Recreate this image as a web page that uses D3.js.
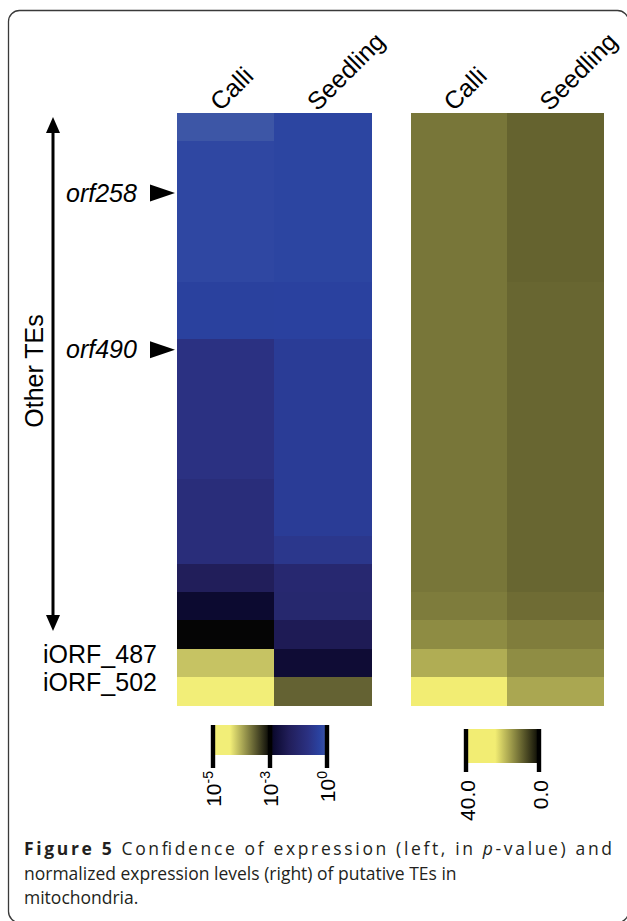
<!DOCTYPE html>
<html>
<head>
<meta charset="utf-8">
<script src="https://cdn.jsdelivr.net/npm/d3@7"></script>
<style>
  html, body { margin: 0; padding: 0; background: #fff; }
  svg { display: block; }
</style>
</head>
<body>
<svg id="chart" width="627" height="921"></svg>
<script>
// ---------------- data ----------------
const columns = ["Calli", "Seedling"];
const rowNames = ["TE01", "TE02", "orf258", "TE04", "TE05", "TE06", "TE07", "TE08",
  "orf490", "TE10", "TE11", "TE12", "TE13", "TE14", "TE15", "TE16", "TE17", "TE18", "TE19",
  "iORF_487", "iORF_502"];
// log10(p-value) of expression confidence
const logPCalli = [0, -0.3, -0.3, -0.3, -0.3, -0.3, -0.45, -0.45, -1, -1, -1, -1, -1,
  -1.2, -1.2, -1.2, -2, -2.8, -3, -4.14, -5];
const logPSeedling = [-0.35, -0.35, -0.35, -0.35, -0.35, -0.35, -0.42, -0.42, -0.6, -0.6,
  -0.6, -0.6, -0.6, -0.6, -0.6, -0.8, -1.45, -1.5, -2.1, -2.7, -3.56];
// normalized expression levels
const exprCalli = [11.4, 11.4, 11.4, 11.4, 11.4, 11.4, 11.4, 11.4, 11.4, 11.4, 11.4, 11.4,
  11.4, 11.4, 11.4, 11.4, 11.4, 12.0, 13.7, 17.2, 32];
const exprSeedling = [9.4, 9.4, 9.4, 9.4, 9.4, 9.4, 9.7, 9.7, 9.7, 9.7, 9.7, 9.7, 9.7, 9.7,
  9.7, 9.7, 9.7, 10.4, 12.2, 13.8, 16.6];
const pTicks = [-5, -3, 0];
const exprTicks = [40, 0];
const exprTickLabels = ["40.0", "0.0"];
const annotLabels = ["orf258", "orf490"];
const annotPos = [2.84, 8.4];      // position in row units
const bottomLabels = ["iORF_487", "iORF_502"];

// ---------------- setup ----------------
const svg = d3.select("#chart");
const FONT = "'Liberation Sans', Arial, Helvetica, sans-serif";

// frame
svg.append("rect").attr("x", 8.5).attr("y", 10.5).attr("width", 620).attr("height", 912)
  .attr("rx", 11).attr("fill", "none").attr("stroke", "#3a3a3a").attr("stroke-width", 1.3);

// colour scales
const pColor = d3.scaleLinear()
  .domain([-5, -4.4, -3, -2.8, -2, -1, -0.4, 0])
  .range(["#f2ee78", "#f2ee78", "#050505", "#0c0a30", "#211e5a", "#2b3182", "#2a42a0", "#3d56a6"])
  .clamp(true);
const eColor = d3.scaleLinear()
  .domain([0, 24, 40])
  .range(["#0a0a04", "#f2ed73", "#f2ed73"])
  .clamp(true);

const yTop = 113, yBottom = 705;
const y = d3.scaleBand().domain(rowNames).range([yTop, yBottom]).padding(0);
const yRow = d3.scaleLinear().domain([0, rowNames.length]).range([yTop, yBottom]);

const xL = d3.scaleBand().domain(columns).range([177, 371]).padding(0);
const xR = d3.scaleBand().domain(columns).range([411, 603]).padding(0);

function heat(xs, series, color) {
  const g = svg.append("g").attr("shape-rendering", "crispEdges");
  columns.forEach((c, ci) => {
    g.selectAll(null).data(series[ci]).join("rect")
      .attr("x", xs(c)).attr("width", xs.bandwidth() + 0.5)
      .attr("y", (d, i) => y(rowNames[i])).attr("height", y.bandwidth() + 0.5)
      .attr("fill", d => color(d));
  });
}
heat(xL, [logPCalli, logPSeedling], pColor);
heat(xR, [exprCalli, exprSeedling], eColor);

// column labels
function colLabels(xs) {
  columns.forEach(c => {
    const cx = xs(c) + xs.bandwidth() / 2 - 5;
    svg.append("text").attr("transform", `translate(${cx},112) rotate(-45)`)
      .attr("font-family", FONT).attr("font-size", 25).attr("fill", "#000")
      .text(c);
  });
}
colLabels(xL);
colLabels(xR);

// double arrow
const ax = 53, aTop = 117, aBot = 631;
svg.append("line").attr("x1", ax).attr("x2", ax).attr("y1", aTop + 10).attr("y2", aBot - 10)
  .attr("stroke", "#000").attr("stroke-width", 3);
svg.append("path").attr("d", `M${ax},${aTop} L${ax - 7},${aTop + 16} L${ax + 7},${aTop + 16} Z`).attr("fill", "#000");
svg.append("path").attr("d", `M${ax},${aBot} L${ax - 7},${aBot - 16} L${ax + 7},${aBot - 16} Z`).attr("fill", "#000");
svg.append("text").attr("transform", `translate(43,371) rotate(-90)`)
  .attr("text-anchor", "middle").attr("font-family", FONT).attr("font-size", 25).text("Other TEs");

// annotations
annotLabels.forEach((t, i) => {
  const yy = yRow(annotPos[i]);
  svg.append("text").attr("x", 66).attr("y", yy + 8.5).attr("font-family", FONT)
    .attr("font-style", "italic").attr("font-size", 25).text(t);
  svg.append("path").attr("d", `M150,${yy - 8.5} L175,${yy} L150,${yy + 8.5} Z`).attr("fill", "#000");
});
bottomLabels.forEach(t => {
  svg.append("text").attr("x", 43).attr("y", y(t) + y.bandwidth() / 2 + 0.5)
    .attr("font-family", FONT).attr("font-size", 25).text(t);
});

// ---------------- legends ----------------
const defs = svg.append("defs");
// p-value legend
const lxP = d3.scaleLinear().domain([-5, -3, 0]).range([213, 270, 327]);
{
  const grad = defs.append("linearGradient").attr("id", "gp")
    .attr("x1", "0%").attr("x2", "100%").attr("y1", "0%").attr("y2", "0%");
  pColor.domain().forEach(v => grad.append("stop")
    .attr("offset", ((lxP(v) - 213) / 114 * 100) + "%").attr("stop-color", pColor(v)));
  svg.append("rect").attr("x", 213).attr("y", 725).attr("width", 114).attr("height", 30).attr("fill", "url(#gp)");
}
pTicks.forEach(t => {
  svg.append("rect").attr("x", lxP(t) - 2.2).attr("y", 725).attr("width", 4.4).attr("height", 43).attr("fill", "#000");
  const tx = svg.append("text").attr("transform", `translate(${lxP(t) + 7.5},771) rotate(-90)`)
    .attr("text-anchor", "end").attr("font-family", FONT).attr("font-size", 21);
  tx.append("tspan").text("10");
  tx.append("tspan").attr("font-size", 14).attr("dy", -8).text(String(t));
});
// expression legend
const lxE = d3.scaleLinear().domain([40, 0]).range([466, 539]);
{
  const grad = defs.append("linearGradient").attr("id", "ge")
    .attr("x1", "0%").attr("x2", "100%").attr("y1", "0%").attr("y2", "0%");
  [40, 24, 0].forEach(v => grad.append("stop")
    .attr("offset", ((lxE(v) - 466) / 73 * 100) + "%").attr("stop-color", eColor(v)));
  svg.append("rect").attr("x", 466).attr("y", 729).attr("width", 73).attr("height", 34).attr("fill", "url(#ge)");
}
exprTicks.forEach((t, i) => {
  svg.append("rect").attr("x", lxE(t) - 2.2).attr("y", 729).attr("width", 4.4).attr("height", 43).attr("fill", "#000");
  svg.append("text").attr("transform", `translate(${lxE(t) + 9},780) rotate(-90)`)
    .attr("text-anchor", "end").attr("font-family", FONT).attr("font-size", 21).text(exprTickLabels[i]);
});

// ---------------- caption ----------------
const CAP = "'Open Sans', 'Noto Sans', sans-serif";
const CAPSIZE = 17.5;
const l1 = svg.append("text").attr("x", 24).attr("y", 855).attr("font-family", CAP)
  .attr("font-size", CAPSIZE).attr("font-weight", 500).attr("fill", "#231f20")
  .attr("textLength", 588).attr("lengthAdjust", "spacing");
l1.append("tspan").attr("font-weight", "bold").text("Figure 5");
l1.append("tspan").text(" Confidence of expression (left, in ");
l1.append("tspan").attr("font-style", "italic").text("p");
l1.append("tspan").text("-value) and");
svg.append("text").attr("x", 24).attr("y", 879.5).attr("font-family", CAP).attr("font-size", CAPSIZE)
  .attr("font-weight", 500).attr("fill", "#231f20").text("normalized expression levels (right) of putative TEs in");
svg.append("text").attr("x", 24).attr("y", 904).attr("font-family", CAP).attr("font-size", CAPSIZE)
  .attr("font-weight", 500).attr("fill", "#231f20").text("mitochondria.");
</script>
</body>
</html>
